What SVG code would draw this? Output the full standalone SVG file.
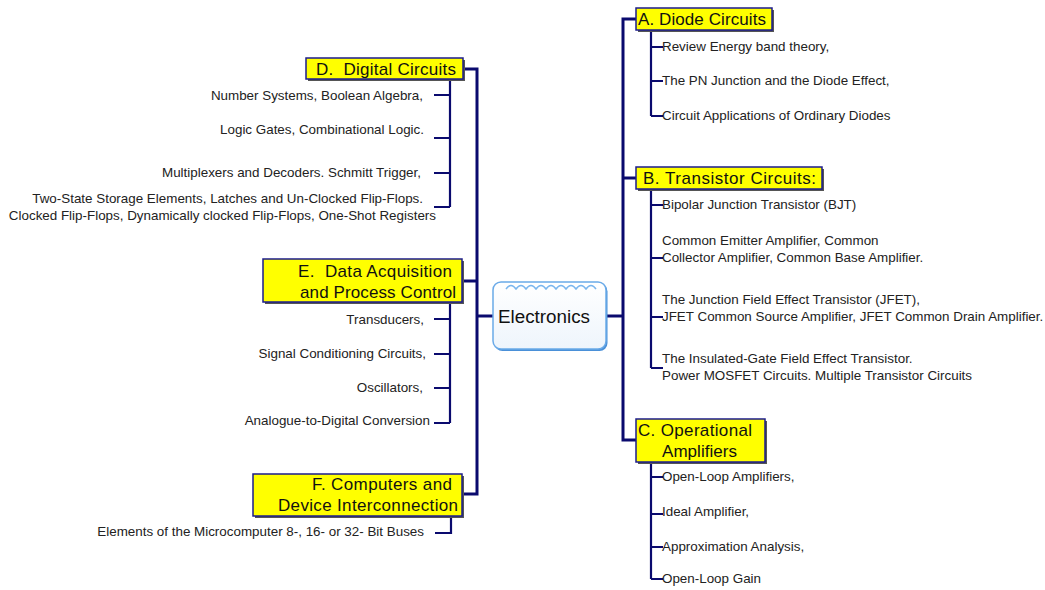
<svg xmlns="http://www.w3.org/2000/svg" width="1045" height="590" viewBox="0 0 1045 590">
<defs>
<style>
.box{fill:#ffff00;stroke:#1c1c8c;stroke-width:1.5}
.sh{fill:#555}
.lbl{font-family:"Liberation Sans",Arial,sans-serif;font-size:17px;fill:#111}
.it{font-family:"Liberation Sans",Arial,sans-serif;font-size:13.4px;fill:#222}
.end{text-anchor:end}
.c{fill:none;stroke:#0a0a6e;stroke-width:3}
.s{fill:none;stroke:#0a0a6e;stroke-width:2.2}
</style>
<linearGradient id="g" x1="0" y1="0" x2="0" y2="1">
<stop offset="0" stop-color="#ffffff"/>
<stop offset="1" stop-color="#eef5fc"/>
</linearGradient>
</defs>
<rect width="1045" height="590" fill="#ffffff"/>
<g id="connectors">
<path class="c" d="M463,69 H477 V494 H463"/>
<path class="c" d="M462,281 H477"/>
<path class="c" d="M477,316 H493"/>
<path class="s" d="M450,79 V207 M434,95 H450 M434,138 H450 M434,173 H450 M434,207 H450"/>
<path class="s" d="M450,302 V423 M434,319 H450 M434,354 H450 M434,388 H450 M434,423 H450"/>
<path class="s" d="M451,516 V533 H435"/>
<path class="c" d="M636,19 H623 V440 H636"/>
<path class="c" d="M623,178 H636"/>
<path class="c" d="M607,316 H623"/>
<path class="s" d="M651,30 V116 M651,47 H663 M651,81 H663 M651,116 H663"/>
<path class="s" d="M651,189 V368 M651,205 H663 M651,258 H663 M651,317 H663 M651,368 H663"/>
<path class="s" d="M651,462 V579 M651,477 H663 M651,514 H663 M651,547 H663 M651,579 H663"/>
</g>
<g id="center">
<rect x="494.5" y="283.5" width="113" height="67.5" rx="8" fill="#4a90d8"/>
<rect x="493" y="282" width="113" height="67" rx="8" fill="url(#g)" stroke="#6aaae8" stroke-width="1.5"/>
<path d="M506,289 q5,-7 10,0 q5,-7 10,0 q5,-7 10,0 q5,-7 10,0 q5,-7 10,0 q5,-7 10,0 q5,-7 10,0 q5,-7 10,0 q5,-7 10,0" fill="none" stroke="#7ab6ee" stroke-width="1.5"/>
<text x="498" y="323" font-family="'Liberation Sans',Arial,sans-serif" font-size="18" fill="#111" textLength="92" lengthAdjust="spacingAndGlyphs">Electronics</text>
</g>
<g id="nodeD">
<rect class="sh" x="308" y="60" width="157" height="21"/>
<rect class="box" x="306" y="58" width="157" height="21"/>
<text class="lbl" x="316" y="75" xml:space="preserve" textLength="140">D.  Digital Circuits</text>
<text class="it end" x="423" y="100">Number Systems, Boolean Algebra,</text>
<text class="it end" x="424" y="134">Logic Gates, Combinational Logic.</text>
<text class="it end" x="421" y="177">Multiplexers and Decoders. Schmitt Trigger,</text>
<text class="it end" x="423" y="203">Two-State Storage Elements, Latches and Un-Clocked Flip-Flops.</text>
<text class="it end" x="436" y="220">Clocked Flip-Flops, Dynamically clocked Flip-Flops, One-Shot Registers</text>
</g>
<g id="nodeE">
<rect class="sh" x="265" y="261" width="199" height="43"/>
<rect class="box" x="263" y="259" width="199" height="43"/>
<text class="lbl" x="298" y="277" xml:space="preserve" textLength="154">E.  Data Acquisition</text>
<text class="lbl" x="300" y="298" textLength="156">and Process Control</text>
<text class="it end" x="424" y="324">Transducers,</text>
<text class="it end" x="426" y="358">Signal Conditioning Circuits,</text>
<text class="it end" x="423" y="392">Oscillators,</text>
<text class="it end" x="430" y="425">Analogue-to-Digital Conversion</text>
</g>
<g id="nodeF">
<rect class="sh" x="255" y="476" width="209" height="42"/>
<rect class="box" x="253" y="474" width="209" height="42"/>
<text class="lbl" x="312" y="490" textLength="140">F. Computers and</text>
<text class="lbl" x="278" y="511" textLength="180">Device Interconnection</text>
<text class="it end" x="424" y="536">Elements of the Microcomputer 8-, 16- or 32- Bit Buses</text>
</g>
<g id="nodeA">
<rect class="sh" x="638" y="10" width="136" height="22"/>
<rect class="box" x="636" y="8" width="136" height="22"/>
<text class="lbl" x="638" y="25" textLength="128">A. Diode Circuits</text>
<text class="it" x="662" y="51">Review Energy band theory,</text>
<text class="it" x="662" y="85">The PN Junction and the Diode Effect,</text>
<text class="it" x="662" y="120">Circuit Applications of Ordinary Diodes</text>
</g>
<g id="nodeB">
<rect class="sh" x="638" y="169" width="186" height="22"/>
<rect class="box" x="636" y="167" width="186" height="22"/>
<text class="lbl" x="643" y="184" textLength="173">B. Transistor Circuits:</text>
<text class="it" x="662" y="209">Bipolar Junction Transistor (BJT)</text>
<text class="it" x="662" y="245">Common Emitter Amplifier, Common</text>
<text class="it" x="662" y="262">Collector Amplifier, Common Base Amplifier.</text>
<text class="it" x="662" y="304">The Junction Field Effect Transistor (JFET),</text>
<text class="it" x="662" y="321">JFET Common Source Amplifier, JFET Common Drain Amplifier.</text>
<text class="it" x="662" y="363">The Insulated-Gate Field Effect Transistor.</text>
<text class="it" x="662" y="380">Power MOSFET Circuits. Multiple Transistor Circuits</text>
</g>
<g id="nodeC">
<rect class="sh" x="638" y="421" width="129" height="43"/>
<rect class="box" x="636" y="419" width="129" height="43"/>
<text class="lbl" x="638" y="436" textLength="114">C. Operational</text>
<text class="lbl" x="662" y="457" textLength="75">Amplifiers</text>
<text class="it" x="662" y="481">Open-Loop Amplifiers,</text>
<text class="it" x="662" y="516">Ideal Amplifier,</text>
<text class="it" x="662" y="551">Approximation Analysis,</text>
<text class="it" x="662" y="583">Open-Loop Gain</text>
</g>
</svg>
